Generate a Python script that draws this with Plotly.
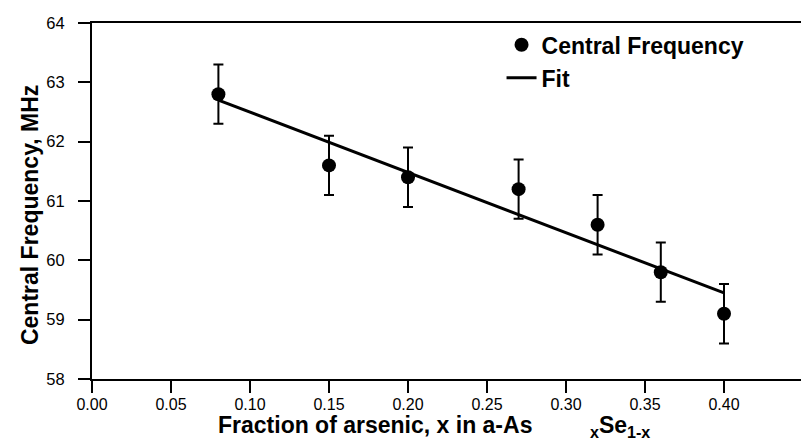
import plotly.graph_objects as go

# Data
x_frac = [0.08, 0.15, 0.20, 0.27, 0.32, 0.36, 0.40]
central_freq = [62.8, 61.6, 61.4, 61.2, 60.6, 59.8, 59.1]
freq_err = [0.5, 0.5, 0.5, 0.5, 0.5, 0.5, 0.5]

fit_x = [0.08, 0.40]
fit_y = [62.70, 59.45]

x_ticks = [0.00, 0.05, 0.10, 0.15, 0.20, 0.25, 0.30, 0.35, 0.40, 0.45]
y_ticks = [58, 59, 60, 61, 62, 63, 64]

x_title = "Fraction of arsenic, x in a-As" + "\u00a0" * 9 + "<sub>x</sub>Se<sub>1-x</sub>"
y_title = "Central Frequency, MHz"

FONT = "Arial, Liberation Sans, Helvetica, sans-serif"

fig = go.Figure()
fig.add_trace(go.Scatter(
    x=x_frac, y=central_freq, mode="markers", name="Central Frequency",
    legendgroup="a",
    marker=dict(color="black", size=14, symbol="circle"),
    error_y=dict(type="data", array=freq_err, visible=True, color="black",
                 thickness=2, width=5),
))
fig.add_trace(go.Scatter(
    x=fit_x, y=fit_y, mode="lines", name="Fit", legendgroup="b",
    line=dict(color="black", width=3),
))

fig.update_layout(
    width=809, height=440,
    margin=dict(l=84, r=14, t=15, b=69),
    paper_bgcolor="white", plot_bgcolor="white",
    font=dict(family=FONT, color="black"),
    showlegend=True,
    legend=dict(x=0.576, y=0.999, xanchor="left", yanchor="top",
                bgcolor="rgba(0,0,0,0)", borderwidth=0,
                font=dict(size=23, family=FONT, weight="bold"),
                traceorder="grouped", tracegroupgap=0),
    xaxis=dict(
        range=[0, 0.45], tickvals=x_ticks, tickformat=".2f",
        automargin=False,
        showgrid=False, zeroline=False,
        showline=True, linecolor="black", linewidth=2, mirror=True,
        ticks="outside", ticklen=12, tickwidth=2, tickcolor="black",
        tickfont=dict(size=16, family=FONT), ticklabelstandoff=-2,
    ),
    yaxis=dict(
        range=[58, 64], tickvals=y_ticks,
        automargin=False,
        showgrid=False, zeroline=False,
        showline=True, linecolor="black", linewidth=2, mirror=True,
        ticks="outside", ticklen=12, tickwidth=2, tickcolor="black",
        tickfont=dict(size=16.5, family=FONT), ticklabelstandoff=10,
    ),
    annotations=[
        dict(text=x_title, xref="paper", yref="paper", x=0.481, y=-0.087,
             xanchor="center", yanchor="top", showarrow=False,
             font=dict(size=23, family=FONT, weight="bold", color="black")),
        dict(text=y_title, xref="paper", yref="paper", x=-0.087, y=0.461,
             xanchor="center", yanchor="middle", showarrow=False, textangle=-90,
             font=dict(size=23, family=FONT, weight="bold", color="black")),
    ],
)

fig.write_html("out.html")
